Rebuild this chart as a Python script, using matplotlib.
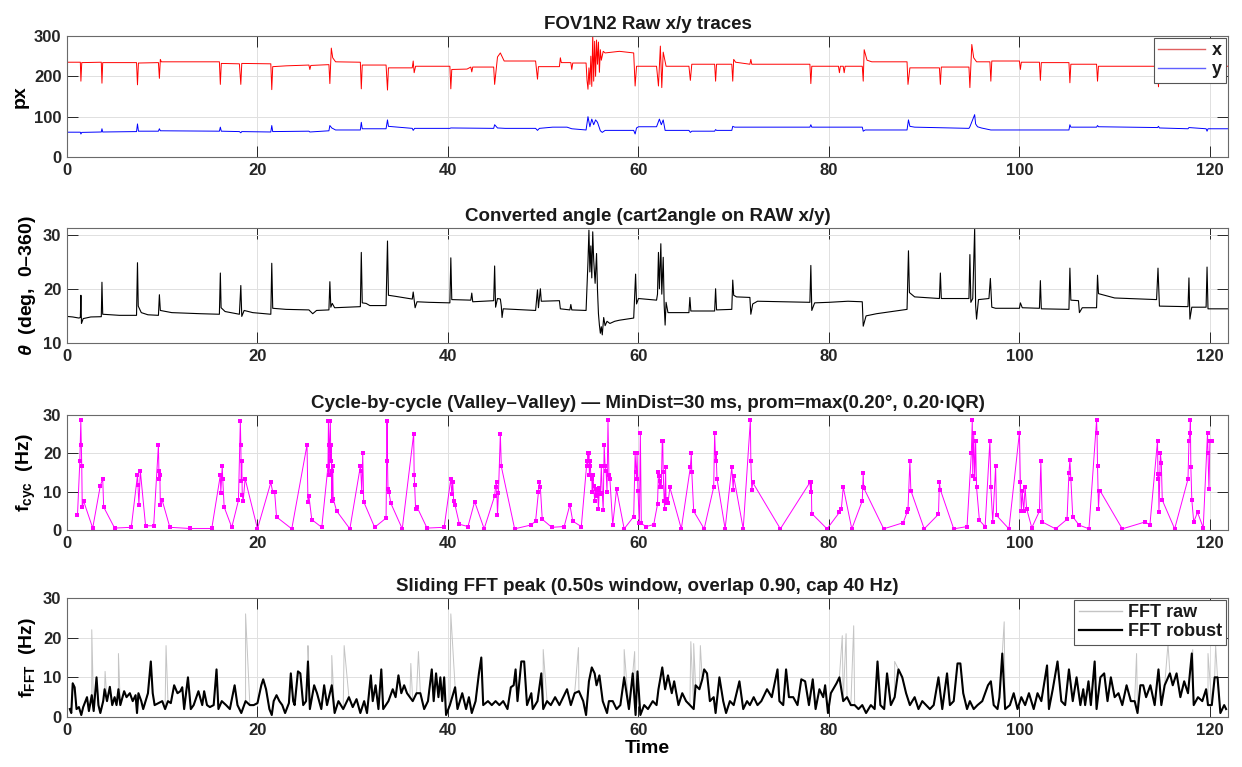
import numpy as np
import matplotlib
matplotlib.use("Agg")
import matplotlib.pyplot as plt
from matplotlib.lines import Line2D

plt.rcParams['font.family'] = ['Liberation Sans', 'DejaVu Sans']
plt.rcParams['font.weight'] = 'bold'
plt.rcParams['axes.labelweight'] = 'bold'
plt.rcParams['mathtext.fontset'] = 'custom'
plt.rcParams['mathtext.rm'] = 'Liberation Sans:bold'
plt.rcParams['mathtext.bf'] = 'Liberation Sans:bold'
plt.rcParams['mathtext.it'] = 'Liberation Sans:italic:bold'

# ---------------- Panel 1: raw x / y traces ----------------
x_t = [0, 1.4, 1.46, 1.55, 3.6, 3.67, 3.75, 7.3, 7.4, 7.5, 9.6, 9.7, 9.8, 9.9, 16.0, 16.1, 16.2,
       18.1, 18.25, 18.35, 21.4, 21.5, 21.6, 23, 25.4, 25.5, 25.6, 27.5, 27.6, 27.75, 27.9, 28.2,
       30.8, 30.9, 31.0, 33.5, 33.65, 33.75, 36.25, 36.35, 36.45, 36.6, 40.2, 40.3, 40.4, 42.0,
       42.4, 42.5, 42.6, 44.8, 44.9, 45.2, 45.5, 45.9, 49.2, 49.4, 49.5, 51.7, 51.8, 51.9, 52.9,
       53.0, 53.1, 54.5, 54.6, 54.7, 54.8, 54.9, 55.0, 55.1, 55.2, 55.3, 55.4, 55.5, 55.6, 55.7,
       55.8, 55.9, 56.0, 56.1, 56.3, 56.5, 58, 59.5, 59.65, 59.8, 61.9, 62.1, 62.3, 62.45, 62.6,
       62.75, 62.9, 65.3, 65.45, 65.6, 68.0, 68.1, 68.2, 69.8, 69.9, 70.0, 70.2, 71.7, 71.8, 71.9,
       78.0, 78.1, 78.2, 81.0, 81.1, 81.2, 81.5, 81.6, 81.7, 83.5, 83.6, 83.7, 84.0, 84.5, 88.2,
       88.3, 88.5, 91.6, 91.7, 91.8, 94.7, 94.8, 95.0, 95.2, 95.5, 96.9, 97.0, 97.1, 100.0, 100.1,
       100.2, 102.1, 102.2, 102.3, 105.2, 105.3, 105.4, 108.1, 108.2, 108.3, 114.5, 114.6, 114.75,
       115.0, 117.7, 117.8, 117.9, 119.6, 119.7, 119.8, 121.9]
x_px = [235, 235, 188, 234, 235, 183, 234, 234, 179, 233, 234, 195, 242, 236, 236, 180, 232,
        231, 180, 232, 231, 167, 224, 226, 228, 217, 227, 229, 182, 270, 246, 236,
        235, 169, 228, 228, 166, 221, 221, 238, 209, 225, 225, 169, 217, 218,
        223, 211, 223, 223, 180, 248, 258, 238, 238, 193, 224, 224, 246, 234, 234,
        217, 233, 233, 190, 168, 221, 180, 250, 175, 305, 188, 287, 200, 290, 230,
        285, 210, 266, 240, 262, 258, 262, 258, 176, 225, 225, 176, 275, 172, 260,
        242, 225, 225, 190, 230, 230, 188, 230, 230, 188, 242, 235, 230, 242, 230,
        230, 182, 225, 225, 209, 225, 225, 209, 225, 225, 188, 266, 240, 236, 236,
        180, 221, 221, 180, 223, 223, 172, 279, 246, 236, 236, 188, 238, 238, 217,
        235, 235, 190, 234, 234, 184, 230, 230, 188, 225, 225, 174, 258,
        240, 226, 200, 226, 225, 184, 225, 225]

y_t = [0, 1.4, 1.46, 1.55, 3.6, 3.67, 3.75, 7.3, 7.4, 7.5, 9.6, 9.7, 9.8, 16.0, 16.1, 16.2,
       18.1, 18.25, 18.35, 21.4, 21.5, 21.6, 25.4, 25.5, 27.5, 27.6, 27.8, 28.2, 30.8, 30.9, 31.0,
       33.5, 33.65, 33.75, 36.25, 36.35, 36.5, 40.2, 40.3, 44.8, 44.9, 45.2, 46, 49.2, 49.4, 49.6,
       51, 52.5, 53, 54.5, 54.7, 54.9, 55.1, 55.3, 55.5, 55.7, 56, 56.2, 56.5, 58, 59.5, 59.65,
       59.8, 60, 61.9, 62.2, 62.4, 62.6, 62.8, 63.1, 65.3, 65.45, 65.6, 68.0, 68.1, 68.2, 69.8,
       69.9, 70.1, 78.0, 78.1, 78.2, 83.5, 83.6, 83.8, 88.2, 88.35, 88.5, 89, 94.7, 94.8, 95.3,
       95.4, 95.6, 96, 97, 105.2, 105.3, 105.4, 108.1, 108.2, 108.3, 114.5, 114.6, 114.7, 117.7,
       117.8, 119.6, 119.7, 119.8, 121.9]
y_px = [61.5, 61.5, 57, 61, 62, 70, 62, 63, 82, 64, 64, 70, 65, 64, 74, 64,
        63, 60, 63, 62, 78, 63, 64, 62, 65, 78, 72, 67, 67, 86, 70,
        70, 92, 76, 71, 66, 71, 71, 72, 71, 80, 72, 71, 71, 66, 71,
        74, 74, 70, 67, 100, 75, 94, 80, 92, 86, 65, 61, 66, 66, 66, 57,
        72, 75, 75, 94, 80, 92, 66, 66, 66, 61, 64, 64, 68, 66, 66,
        76, 74, 74, 80, 74, 74, 64, 67, 67, 92, 76, 74, 71, 75, 105,
        82, 75, 72, 67, 67, 80, 74, 74, 78, 75, 73, 76, 72, 70,
        73, 70, 64, 70, 70]

# ---------------- Panel 2: converted angle ----------------
th_t = [0.0, 0.6, 1.25, 1.40, 1.46, 1.52, 1.7, 2.5, 3.6, 3.67, 3.75, 5.5, 7.3, 7.4, 7.48, 7.8,
        8.5, 9.6, 9.7, 9.8, 11, 14, 16.0, 16.1, 16.18, 16.6, 18.1, 18.25, 18.35, 18.6, 19.5,
        21.4, 21.5, 21.6, 23, 25.4, 25.8, 26.2, 27.5, 27.6, 27.7, 27.85, 28.1, 30.8, 30.9, 31.0,
        31.4, 31.8, 33.5, 33.65, 33.75, 34.5, 36.25, 36.35, 36.55, 36.75, 38, 40.2, 40.3, 40.4,
        42.4, 42.5, 42.6, 44.8, 44.9, 45.0, 45.2, 45.5, 45.6, 45.68, 45.8, 47, 49.2, 49.4, 49.5,
        49.7, 49.8, 51.7, 51.8, 52.8, 52.9, 53.0, 54.5, 54.7, 54.8, 54.9, 55.0, 55.1, 55.2, 55.3,
        55.45, 55.6, 55.7, 55.8, 55.9, 56.0, 56.1, 56.2, 56.35, 56.5, 56.7, 57.0, 57.5, 58,
        59.5, 59.7, 59.8, 60.0, 61.9, 62.0, 62.1, 62.2, 62.35, 62.45, 62.6, 62.7, 62.8, 62.9,
        63.1, 65.3, 65.4, 65.5, 68.0, 68.1, 68.2, 69.8, 69.9, 70.0, 70.3, 71.7, 71.8, 72.0, 72.5,
        78.0, 78.1, 78.2, 78.5, 80, 82, 83.5, 83.6, 83.9, 85, 88.2, 88.35, 88.45, 89, 91.6, 91.7,
        91.8, 94.7, 94.8, 94.9, 95.1, 95.3, 95.4, 95.5, 95.7, 96.8, 96.95, 97.1, 97.5, 100.0,
        100.1, 100.3, 102.1, 102.2, 102.3, 105.2, 105.3, 105.4, 106.2, 106.3, 106.6, 108.1,
        108.2, 108.3, 110, 114.4, 114.55, 114.7, 117.7, 117.8, 117.9, 118.1, 119.6, 119.7,
        119.8, 121.9]
th_deg = [14.9, 14.8, 14.6, 14.7, 18.8, 13.6, 14.5, 14.8, 14.85, 21.2, 15.3, 15.1, 15.1, 24.8,
          16.8, 15.6, 15.2, 15.1, 18.9, 16.0, 15.6, 15.4, 15.3, 22.9, 16.5, 15.8, 15.3, 20.6,
          14.9, 16.0, 15.6, 15.3, 24.7, 16.4, 16.2, 16.1, 15.4, 16.0, 16.1, 21.3, 16.6, 17.3,
          16.5, 16.7, 26.7, 17.4, 17.3, 16.9, 16.9, 28.8, 18.8, 18.6, 18.1, 19.4, 16.5, 17.6,
          17.5, 17.4, 25.7, 18.0, 17.9, 19.2, 17.6, 17.8, 24.2, 16.6, 18.2, 18.1, 16.8, 14.7,
          16.3, 16.2, 16.0, 19.8, 16.5, 20.0, 17.7, 17.8, 16.3, 16.1, 17.1, 16.1, 16.0, 25.0,
          30.8, 23.1, 27.9, 22.0, 30.5, 25.3, 21.0, 26.5, 19.7, 15.4, 13.3, 11.8, 13.0, 11.5,
          14.7, 13.2, 14.0, 13.6, 14.0, 14.2, 14.6, 22.7, 17.2, 18.2, 17.9, 19.0, 26.7, 20.0,
          28.3, 19.0, 25.8, 17.0, 13.3, 17.5, 15.6, 15.6, 18.4, 15.9, 15.9, 20.0, 16.1, 16.2,
          21.6, 18.8, 18.5, 18.4, 15.3, 17.2, 17.7, 17.5, 24.3, 16.0, 17.4, 17.5, 17.7, 17.6,
          13.1, 15.0, 15.4, 16.2, 27.0, 19.3, 18.5, 18.2, 22.9, 18.2, 18.2, 26.3, 17.5, 18.2,
          31.1, 17.0, 14.4, 18.0, 18.2, 21.9, 16.6, 16.4, 16.4, 17.4, 16.5, 16.4, 21.5, 16.3,
          16.2, 23.8, 17.9, 17.8, 15.6, 16.5, 16.5, 22.5, 19.1, 18.3, 18.0, 23.8, 16.8, 16.7,
          22.0, 14.4, 16.6, 16.6, 24.0, 16.3, 16.3]

# ---------------- Panel 3: cycle-by-cycle frequency ----------------
cyc_t = [1.1, 1.35, 1.45, 1.5, 1.55, 1.6, 1.75, 2.7, 3.5, 3.75, 3.85, 5.0, 6.75, 7.4, 7.45,
         7.55, 7.7, 8.25, 9.1, 9.6, 9.65, 9.7, 9.75, 9.8, 10.0, 10.8, 12.9, 15.2, 16.1, 16.15,
         16.3, 16.35, 16.5, 17.3, 18.0, 18.2, 18.25, 18.3, 18.35, 18.4, 18.5, 18.7, 20.0, 21.4,
         21.6, 21.8, 22.0, 23.6, 25.2, 25.3, 25.4, 25.7, 26.75, 27.4, 27.45, 27.5, 27.55, 27.65,
         27.7, 27.75, 27.8, 27.85, 27.9, 27.95, 28.3, 29.7, 30.8, 30.85, 30.95, 31.05, 31.15,
         32.3, 33.5, 33.6, 33.65, 33.7, 33.8, 34.0, 35.2, 36.4, 36.45, 36.5, 36.6, 36.75, 37.8,
         39.6, 40.3, 40.4, 40.5, 40.6, 40.75, 41.2, 42.1, 42.8, 43.8, 44.9, 45.0, 45.1, 45.2,
         45.3, 45.5, 45.6, 47.0, 48.7, 49.2, 49.5, 49.6, 49.7, 49.9, 50.9, 52.2, 52.8, 53.1,
         54.0, 54.6, 54.65, 54.7, 54.75, 54.8, 54.85, 54.9, 54.95, 55.0, 55.1, 55.15, 55.2,
         55.3, 55.4, 55.5, 55.6, 55.7, 55.8, 55.9, 56.0, 56.1, 56.2, 56.3, 56.4, 56.5, 56.6,
         56.7, 56.8, 56.9, 57.0, 57.3, 57.7, 58.5, 59.5, 59.65, 59.75, 59.8, 59.85, 59.95,
         60.1, 60.2, 60.3, 60.8, 61.6, 62.0, 62.1, 62.2, 62.25, 62.3, 62.4, 62.5, 62.55, 62.6,
         62.7, 62.75, 62.85, 62.9, 63.0, 63.1, 63.3, 64.5, 65.45, 65.55, 65.6, 65.8, 66.9,
         67.9, 68.0, 68.1, 68.15, 68.25, 69.1, 69.8, 69.95, 70.0, 71.0, 71.75, 71.8, 71.9,
         72.0, 74.9, 78.0, 78.1, 78.15, 78.2, 79.8, 81.1, 81.3, 81.5, 82.4, 83.5, 83.55, 83.6,
         83.65, 85.75, 87.8, 88.2, 88.3, 88.5, 88.6, 90.0, 91.5, 91.6, 91.7, 93.1, 94.5, 94.95,
         95.05, 95.1, 95.2, 95.3, 95.4, 95.5, 95.8, 96.4, 96.9, 97.0, 97.2, 97.5, 97.6, 98.9,
         100.0, 100.1, 100.2, 100.3, 100.45, 100.6, 100.75, 101.3, 102.1, 102.25, 102.4, 103.8,
         105.0, 105.2, 105.3, 105.4, 105.6, 106.25, 107.3, 108.1, 108.15, 108.2, 108.3, 108.4,
         108.5, 110.8, 113.2, 113.7, 114.5, 114.55, 114.6, 114.65, 114.75, 114.8, 114.9, 115.0,
         116.3, 117.7, 117.8, 117.9, 117.95, 118.0, 118.1, 118.3, 118.7, 119.3, 119.75, 119.8,
         119.9, 120.0, 120.2]
cyc_f = [3.8, 18.1, 28.6, 22.2, 16.6, 6.0, 7.5, 0.5, 11.6, 13.3, 6.0, 0.5, 0.7, 14.3, 11.7,
         6.6, 15.4, 1.1, 1.1, 22.2, 15.4, 13.4, 14.4, 6.6, 7.7, 0.7, 0.4, 0.4, 14.3, 9.7,
         16.6, 13.4, 6.0, 0.7, 7.7, 28.5, 22.2, 12.9, 18.1, 9.1, 7.5, 13.4, 0.3, 12.4,
         9.9, 9.9, 3.4, 0.3, 22.2, 7.4, 8.9, 2.7, 0.7, 16.6, 28.5, 14.4, 22.2, 28.5,
         18.1, 22.2, 7.5, 15.4, 16.6, 8.2, 5.0, 0.3, 16.6, 15.4, 9.9, 20.0, 7.4,
         0.7, 3.1, 28.5, 18.1, 10.8, 9.9, 7.0, 0.3, 25.1, 14.4, 11.8, 5.4, 6.0, 0.5,
         0.7, 13.4, 9.3, 12.6, 7.5, 6.4, 1.5, 0.9, 7.4, 0.3, 8.9, 11.3, 12.6, 4.0,
         9.7, 25.1, 16.6, 0.3, 1.3, 2.3, 9.9, 12.5, 11.1, 2.8, 0.7, 0.9, 6.6, 2.3,
         0.9, 18.1, 16.6, 20.0, 18.1, 20.0, 14.3, 18.1, 16.6, 14.3, 13.3, 10.0, 14.3,
         11.6, 7.6, 10.6, 8.8, 10.0, 5.4, 11.0, 9.5, 16.6, 9.7, 5.2, 22.2, 16.6, 15.3,
         10.0, 28.6, 14.3, 13.3, 1.3, 10.6, 0.3, 3.5, 20.0, 15.1, 13.3, 20.0, 10.3,
         1.7, 25.4, 1.7, 0.9, 1.4, 6.7, 15.1, 14.0, 11.2, 12.7, 11.2, 23.3, 23.3, 15.1,
         7.6, 5.4, 16.4, 7.0, 8.0, 7.0, 11.1, 0.3, 16.4, 20.0, 15.1, 4.9, 0.3,
         11.2, 25.4, 18.0, 20.0, 13.3, 0.3, 16.4, 10.5, 14.0, 0.3, 28.6, 18.0, 10.4,
         12.4, 0.3, 12.4, 9.8, 12.4, 4.3, 0.3, 4.6, 5.4, 11.2, 0.3, 7.6, 11.2, 14.8,
         11.0, 0.3, 1.9, 4.6, 5.4, 18.0, 10.3, 0.3, 4.1, 12.4, 10.5, 0.3, 0.9, 20.0,
         28.6, 14.0, 25.4, 13.3, 23.3, 11.1, 2.5, 0.9, 23.3, 11.1, 2.1, 16.6, 3.8, 0.3,
         25.4, 12.4, 4.9, 10.3, 4.9, 11.2, 5.6, 0.6, 4.9, 18.0, 2.1, 0.3,
         2.8, 14.9, 18.2, 13.2, 3.5, 1.3, 0.3, 28.6, 25.4, 16.8, 5.6, 10.3,
         10.1, 0.3, 2.1, 1.3, 23.3, 13.3, 14.5, 4.8, 14.5, 20.0, 17.5, 7.8,
         0.3, 13.3, 23.3, 25.4, 28.6, 16.4, 7.9, 2.1, 4.6, 0.6, 25.4, 20.0,
         10.7, 23.3, 23.3]

# ---------------- Panel 4: sliding FFT peak ----------------
fft_t = [0.3, 0.45, 0.6, 0.8, 1.0, 1.25, 1.5, 1.7, 2.1, 2.3, 2.6, 2.8, 3.1, 3.3, 3.5, 3.8, 3.95,
         4.2, 4.5, 4.75, 5.0, 5.2, 5.4, 5.6, 6.0, 6.25, 6.6, 6.9, 7.2, 7.35, 7.5, 7.8, 8.0, 8.25,
         8.5, 8.8, 9.0, 9.2, 9.6, 10.0, 10.3, 10.6, 10.9, 11.25, 11.6, 11.9, 12.1, 12.3, 12.7,
         13.0, 13.3, 13.8, 14.2, 14.4, 14.7, 15.0, 15.4, 15.7, 15.9, 16.25, 16.7, 17.1, 17.6,
         17.9, 18.3, 18.75, 19.2, 19.6, 20.0, 20.4, 20.6, 20.9, 21.25, 21.5, 21.7, 22.0, 22.3,
         22.6, 22.9, 23.3, 23.5, 23.75, 23.9, 24.25, 24.5, 24.8, 25.1, 25.3, 25.5, 25.95, 26.25,
         26.7, 27.0, 27.3, 27.8, 28.1, 28.5, 29.0, 29.6, 30.0, 30.4, 30.8, 31.2, 31.5, 31.9,
         32.1, 32.4, 32.7, 33.0, 33.2, 33.75, 34.2, 34.5, 34.8, 35.1, 35.4, 35.7, 36.0, 36.3,
         36.7, 37.1, 37.5, 37.9, 38.3, 38.5, 38.75, 39.0, 39.2, 39.4, 39.6, 39.8, 40.2, 40.75,
         41.0, 41.5, 41.9, 42.2, 42.5, 42.9, 43.25, 43.5, 43.7, 44.2, 44.6, 45.0, 45.4, 45.8,
         46.25, 46.6, 46.9, 47.1, 47.3, 47.7, 48.0, 48.3, 48.75, 48.9, 49.4, 49.8, 50.0, 50.4,
         50.8, 51.25, 51.7, 52.1, 52.5, 52.9, 53.3, 53.75, 54.2, 54.5, 54.8, 55.1, 55.4, 55.6,
         55.9, 56.25, 56.7, 56.9, 57.3, 57.7, 58.1, 58.5, 59.0, 59.4, 59.7, 59.9, 60.2, 60.6,
         61.0, 61.5, 61.9, 62.1, 62.5, 62.8, 63.1, 63.5, 63.75, 64.2, 64.6, 65.0, 65.4, 65.8,
         66.0, 66.4, 66.7, 66.9, 67.2, 67.5, 67.9, 68.1, 68.5, 68.9, 69.2, 69.6, 70.0, 70.6,
         71.0, 71.4, 71.7, 72.1, 72.5, 72.9, 73.5, 74.0, 74.6, 74.8, 75.2, 75.5, 75.8, 76.25,
         76.7, 77.1, 77.5, 77.9, 78.3, 78.6, 79.0, 79.4, 79.6, 79.9, 80.2, 80.8, 81.1, 81.5,
         81.9, 82.3, 82.7, 83.1, 83.5, 83.9, 84.4, 84.8, 85.1, 85.4, 85.8, 86.1, 86.5, 86.9,
         87.3, 87.7, 88.1, 88.5, 89.0, 89.4, 89.8, 90.2, 90.6, 91.0, 91.5, 91.9, 92.4, 92.7,
         93.1, 93.5, 93.8, 94.1, 94.5, 94.8, 95.2, 95.6, 96.1, 96.7, 97.0, 97.3, 97.7, 97.9,
         98.2, 98.5, 99.0, 99.4, 99.8, 100.2, 100.6, 101.0, 101.5, 101.9, 102.3, 102.9, 103.1,
         103.5, 104.0, 104.4, 104.8, 105.2, 105.6, 106.0, 106.4, 106.7, 106.9, 107.25, 107.5,
         107.9, 108.1, 108.5, 108.9, 109.25, 109.6, 110.0, 110.4, 110.8, 111.25, 111.7, 112.1,
         112.4, 112.7, 113.0, 113.3, 113.75, 114.2, 114.6, 114.9, 115.25, 115.8, 116.1, 116.5,
         116.9, 117.3, 117.7, 118.1, 118.3, 118.75, 119.2, 119.6, 119.8, 120.2, 120.5, 120.8,
         121.1, 121.5, 121.7]
fft_robust = [2, 1, 8.5, 7.5, 2, 2.5, 0.5, 2.5, 5, 1.5, 5.5, 1.5, 10, 3, 1, 4, 7,
              4, 7.6, 3, 5, 3, 7, 3, 6.5, 5, 6, 4, 5.5, 1, 6, 4, 2, 4,
              6, 14, 6, 3, 3.5, 4, 2, 4, 3.5, 8, 6, 6.5, 7.5, 2, 10,
              2, 3, 6.5, 3, 6.5, 3, 2.5, 3, 12, 2, 4, 3, 2, 8,
              3, 1, 4, 3, 3, 3.5, 8, 9.5, 7, 2, 0.5, 4, 5.5, 4,
              3, 1, 3.5, 11, 4, 3, 11.5, 11, 3, 4, 14, 2, 8, 6,
              2, 8, 3, 8, 1, 4, 2, 5, 2.5, 4.5, 1, 4, 1, 10.5,
              4, 8, 2, 12, 2, 4, 7, 5, 10.5, 6, 8, 6, 5, 4,
              6, 6, 2, 4, 12, 4, 11, 5, 10, 4, 10, 0.5, 3, 7.5,
              2, 6, 2, 5, 1, 4, 11, 15, 3, 4, 3, 4, 3, 4,
              2, 7.5, 8, 12, 4, 14, 14, 3, 6, 2, 4, 11, 2, 4,
              3, 5, 3, 5, 7, 3, 6, 6.5, 4, 0.5, 9, 12.5, 11, 8,
              10.5, 4, 1, 4, 4, 2, 3, 10, 2, 11, 0.5, 11.5, 0.5, 3,
              2, 4, 3, 7, 12.5, 7, 10.5, 6, 9, 3, 6, 4, 3, 2,
              8, 7, 9.5, 12, 11, 4, 5, 1, 10, 4, 1, 4, 3, 9,
              2, 4, 3, 5, 3, 4, 7, 5, 12, 4, 3, 12, 5, 5,
              3, 9.5, 9, 3, 9.5, 2, 7, 5, 8, 1, 6, 8.5, 10, 4,
              5, 3, 3, 2, 3, 1, 3, 2, 14, 3, 2, 11, 3, 5,
              12, 10, 6, 3, 5, 2, 4, 3, 2, 3, 10, 2, 11, 3,
              4, 13.5, 13.5, 6, 2, 4, 2, 3, 4, 8, 9, 3, 2, 5,
              16, 2, 3, 6, 2, 5, 3, 6, 2, 6, 4, 13, 2,
              7, 14, 4, 3, 12, 4, 10, 3, 7, 3, 9, 3,
              14, 2, 10, 11, 4, 10, 5, 6, 3, 8, 4, 4,
              1, 8, 8, 5, 8, 3, 12, 3, 8, 11, 8, 11,
              5, 9, 6, 16, 3, 5, 4, 7, 3, 3, 10, 10,
              1, 3, 2]
raw_spike_t = [2.6, 4.0, 5.4, 10.4, 18.75, 25.3, 27.8, 29.1, 36.1, 36.9, 40.3, 43.5, 50.0,
               53.7, 58.5, 59.6, 65.5, 65.8, 66.5, 81.4, 81.8, 82.6, 86.9, 98.4, 112.3, 115.6,
               118.2, 119.8, 120.6]
raw_spike_v = [22, 11.5, 16, 18, 26, 18, 15.5, 18, 13.5, 16.5, 26, 15, 17,
               17.5, 17, 16.5, 19, 18.5, 18, 20.5, 21, 23, 14, 24, 16, 18.5,
               17, 16, 18]

xticks = [0, 20, 40, 60, 80, 100, 120]
titles = ["FOV1N2 Raw x/y traces",
          "Converted angle (cart2angle on RAW x/y)",
          "Cycle-by-cycle (Valley\u2013Valley) \u2014 MinDist=30 ms, prom=max(0.20\u00b0, 0.20\u00b7IQR)",
          "Sliding FFT peak (0.50s window, overlap 0.90, cap 40 Hz)"]

# ---------------- figure ----------------
W, H = 1242, 767
fig = plt.figure(figsize=(W / 100, H / 100), dpi=100)
left, right = 67, 1228
boxes = [(36, 157), (228, 343), (415, 530), (598, 717)]
axes = []
for top, bot in boxes:
    ax = fig.add_axes([left / W, 1 - bot / H, (right - left) / W, (bot - top) / H])
    axes.append(ax)

XMAX = 121.9
for ax, ttl in zip(axes, titles):
    ax.set_xlim(0, XMAX)
    ax.set_xticks(xticks)
    ax.grid(True, color='#e0e0e0', lw=0.7)
    ax.set_axisbelow(True)
    ax.tick_params(direction='in', length=8, width=0.7, top=True, right=True,
                   color='#262626', labelcolor='#262626', labelsize=12, pad=4)
    for s in ax.spines.values():
        s.set_color('#6a6a6a')
        s.set_linewidth(0.8)
    ax.set_title(ttl, fontsize=13.5, fontweight='bold', color='#1a1a1a', pad=5)

LEG_PROP = {'family': ['Liberation Sans'], 'size': 13, 'weight': 'bold'}


def style_legend(leg):
    leg.get_frame().set_edgecolor('#555555')
    leg.get_frame().set_linewidth(0.8)
    for txt in leg.get_texts():
        txt.set_color('#1a1a1a')
        txt.set_fontweight('bold')


# panel 1
ax = axes[0]
ax.plot(x_t, x_px, color='#ff0000', lw=0.7)
ax.plot(y_t, y_px, color='#0000ff', lw=0.7)
ax.set_ylim(0, 300)
ax.set_yticks([0, 100, 200, 300])
ax.set_ylabel('px', fontsize=14, labelpad=4)
h1 = [Line2D([], [], color='#e06060', lw=1.0), Line2D([], [], color='#6060ff', lw=1.0)]
leg = ax.legend(h1, ['x', 'y'], loc='upper right', prop=LEG_PROP, handlelength=2.6,
                borderaxespad=0.1, frameon=True, fancybox=False, framealpha=1,
                borderpad=0.25, labelspacing=0.1, handletextpad=0.35)
style_legend(leg)

# panel 2
ax = axes[1]
ax.plot(th_t, th_deg, color='black', lw=0.8)
ax.set_ylim(10, 31.2)
ax.set_yticks([10, 20, 30])
ax.set_ylabel('$\\theta$  (deg,  0\u2013360)', fontsize=14, labelpad=4)

# panel 3
ax = axes[2]
ax.plot(cyc_t, cyc_f, color='#ff00ff', lw=0.7, marker='s', markersize=2.2,
        markeredgewidth=0)
ax.set_ylim(0, 30)
ax.set_yticks([0, 10, 20, 30])
ax.set_ylabel(r'$\mathrm{f_{cyc}}$  (Hz)', fontsize=14, labelpad=4)

# panel 4
ax = axes[3]
raw_t = np.concatenate([fft_t, raw_spike_t])
raw_v = np.concatenate([fft_robust, raw_spike_v])
order = np.argsort(raw_t, kind='stable')
ax.plot(raw_t[order], raw_v[order], color='#c4c4c4', lw=0.7)
ax.plot(fft_t, fft_robust, color='black', lw=1.5)
ax.set_ylim(0, 30)
ax.set_yticks([0, 10, 20, 30])
ax.set_ylabel(r'$\mathrm{f_{FFT}}$  (Hz)', fontsize=14, labelpad=4)
ax.set_xlabel('Time', fontsize=14, labelpad=2)
h4 = [Line2D([], [], color='#c4c4c4', lw=1.0), Line2D([], [], color='black', lw=1.6)]
leg = ax.legend(h4, ['FFT raw', 'FFT robust'], loc='upper right', prop=LEG_PROP,
                handlelength=2.4, borderaxespad=0.1, frameon=True, fancybox=False,
                framealpha=1, borderpad=0.25, labelspacing=0.1, handletextpad=0.3)
style_legend(leg)

fig.savefig('out.png', dpi=100, facecolor='white')
